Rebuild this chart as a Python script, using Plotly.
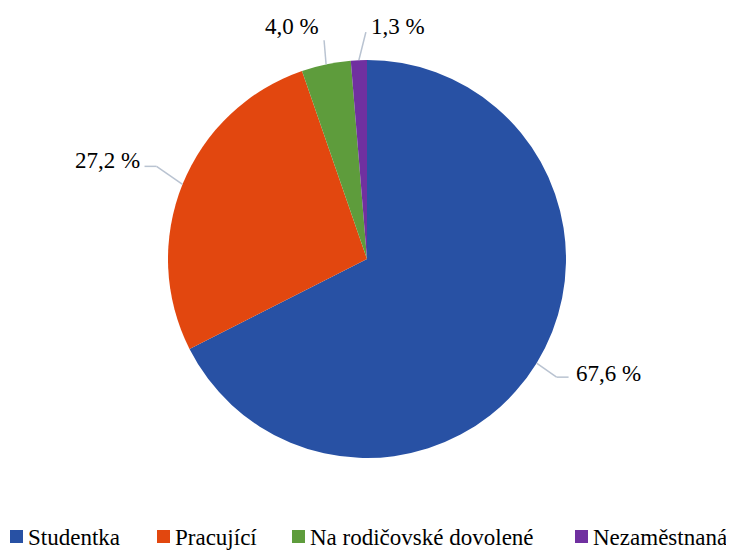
import numpy as np
import plotly.graph_objects as go

labels = ["Studentka", "Pracující", "Na rodičovské dovolené", "Nezaměstnaná"]
values = [67.6, 27.2, 4.0, 1.3]
text_labels = ["67,6 %", "27,2 %", "4,0 %", "1,3 %"]
colors = ["#2851A4", "#E2470F", "#5E9C3C", "#7030A0"]

# page has an 8px body margin, so the figure is a bit smaller and offset
W, H = 726, 543
cx, cy, r = 359, 251, 199
FONT = "Liberation Serif"

fig = go.Figure(go.Pie(
    labels=labels, values=values, sort=False, direction="clockwise",
    marker=dict(colors=colors, line=dict(width=0)),
    textinfo="none", hoverinfo="label+percent",
    domain=dict(x=[(cx - r) / W, (cx + r) / W], y=[1 - (cy + r) / H, 1 - (cy - r) / H]),
    showlegend=False,
))

# leader lines + labels, positioned from slice mid-angles
elbow = [(20, 14), (-26, -18), (-2, -24), (7, -28)]
tail = [(12, 0), (-12, 0), (0, 0), (0, 0)]
text_off = [(5, -4), (-3, -6), (-32, -14), (32, -6)]
anchors = ["left", "right", "center", "center"]

total = sum(values)
cum = np.cumsum([0] + values[:-1])
for i, v in enumerate(values):
    ang = 2 * np.pi * (cum[i] + v / 2) / total
    px0 = cx + r * np.sin(ang)
    py0 = cy - r * np.cos(ang)
    px1, py1 = px0 + elbow[i][0], py0 + elbow[i][1]
    px2, py2 = px1 + tail[i][0], py1 + tail[i][1]
    for a, b, c, d in [(px0, py0, px1, py1), (px1, py1, px2, py2)]:
        if (a, b) != (c, d):
            fig.add_shape(type="line", xref="paper", yref="paper",
                          x0=a / W, y0=1 - b / H, x1=c / W, y1=1 - d / H,
                          line=dict(color="#B9C3D1", width=1.5))
    fig.add_annotation(x=(px2 + text_off[i][0]) / W, y=1 - (py2 + text_off[i][1]) / H,
                       xref="paper", yref="paper", text=text_labels[i], showarrow=False,
                       xanchor=anchors[i], yanchor="middle",
                       font=dict(family=FONT, size=23, color="black"))

# legend row along the bottom (square + label)
leg_x = [2, 149, 284, 567]
leg_y, sq = 522, 13
for lab, col, x in zip(labels, colors, leg_x):
    fig.add_shape(type="rect", xref="paper", yref="paper",
                  x0=x / W, x1=(x + sq) / W, y0=1 - (leg_y + sq) / H, y1=1 - leg_y / H,
                  fillcolor=col, line=dict(width=0))
    fig.add_annotation(x=(x + sq + 3) / W, y=1 - 529 / H, xref="paper", yref="paper",
                       text=lab, showarrow=False, xanchor="left", yanchor="middle",
                       font=dict(family=FONT, size=23, color="black"))

fig.update_layout(
    width=W, height=H, margin=dict(l=0, r=0, t=0, b=0, autoexpand=False),
    paper_bgcolor="white", plot_bgcolor="white",
    font=dict(family=FONT, size=23, color="black"),
    showlegend=False,
)
fig.write_html("out.html")
